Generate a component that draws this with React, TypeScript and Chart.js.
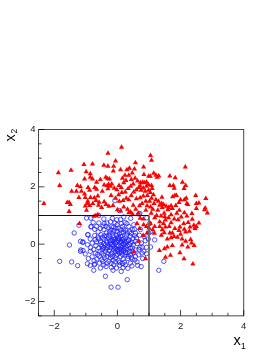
import React, { useEffect, useRef } from "react";
import { Chart, registerables } from "chart.js";

Chart.register(...registerables);

const xTicks = [-2, 0, 2, 4];
const yTicks = [-2, 0, 2, 4];
const minorTicks = [-2.5, -1.5, -1, -0.5, 0.5, 1, 1.5, 2.5, 3, 3.5];
const cutX = [-2.5, 1, 1];
const cutY = [1, 1, -2.5];

const redPoints: number[][] = [
  [-2.33,1.42],[-1.87,2.49],[-1.83,2.05],[-1.47,2.58],[-1.59,1.45],[-1.53,1.45],[-1.49,1.38],[-1.53,1.14],[-1.45,1.85],[-1.30,1.85],
  [-1.27,2.05],[-1.17,2.0],[-1.14,1.85],[-1.22,1.63],[-1.06,2.78],[-0.99,2.53],[-0.79,2.80],[-0.86,2.46],[-1.04,2.27],[-0.86,2.33],
  [-0.79,2.27],[-0.66,2.16],[-0.54,2.26],[-0.43,2.75],[-0.30,2.72],[-0.30,3.17],[-0.06,2.9],[-0.12,2.72],[0.13,3.38],[0.1,2.6],
  [-0.13,2.55],[-0.37,2.33],[-0.31,2.28],[-0.25,2.27],[-0.42,2.06],[-0.33,2.04],[-0.28,2.08],[-0.22,2.02],[-0.3,1.93],[-0.48,1.85],
  [-0.72,1.98],[-0.66,1.92],[-0.93,1.98],[-0.88,1.88],[-1.04,1.75],[-1.02,1.63],[-0.85,1.63],[-0.73,1.62],[-0.62,1.68],[-0.68,1.52],
  [-0.95,1.42],[-1.02,1.33],[-0.88,1.35],[-0.78,1.42],[-0.58,1.46],[-0.42,1.48],[-0.36,1.38],[-0.5,1.28],[-0.27,1.32],[-0.14,1.35],
  [-0.1,1.95],[-0.02,1.9],[0.05,2.05],[0.12,1.98],[0.2,2.14],[0.27,2.22],[0.36,2.4],[0.3,2.6],[0.38,2.65],[0.56,2.3],
  [0.64,2.2],[0.5,2.1],[0.42,2.02],[0.34,1.94],[0.25,1.82],[0.14,1.8],[0.04,1.72],[0.28,1.6],[0.36,1.55],[0.44,1.7],
  [0.52,1.82],[0.6,1.9],[0.68,1.98],[1.05,3.09],[1.08,2.93],[0.57,2.84],[0.83,2.69],[0.54,2.62],[0.47,2.48],[2.15,2.69],
  [1.66,2.38],[1.83,2.32],[0.84,2.43],[1.15,2.47],[0.99,2.37],[1.04,2.37],[1.26,2.33],[1.31,2.38],[1.22,2.4],[2.06,2.16],
  [2.16,2.05],[2.11,1.94],[1.66,2.05],[1.77,2.05],[1.8,1.95],[2.48,1.70],[1.41,1.64],[2.8,1.59],[2.58,1.44],[2.5,1.42],
  [2.78,1.26],[2.76,1.2],[2.85,1.09],[2.58,0.74],[2.36,1.07],[2.37,0.87],[2.5,1.24],[2.2,1.42],[2.23,1.38],[2.0,1.55],
  [2.12,1.55],[2.18,1.6],[1.82,1.7],[1.87,1.7],[1.75,1.65],[1.95,1.45],[1.85,1.35],[0.73,2.14],[0.8,2.16],[0.85,2.14],
  [0.92,2.17],[0.72,2.03],[0.82,1.96],[0.92,2.02],[0.98,2.08],[1.08,2.05],[0.75,1.88],[0.88,1.85],[0.99,1.88],[1.04,1.8],
  [1.1,1.94],[1.14,1.72],[0.95,1.7],[0.82,1.68],[0.72,1.62],[0.6,1.58],[1.08,1.6],[1.22,1.55],[1.3,1.5],[1.4,1.42],
  [1.46,1.38],[1.54,1.32],[1.62,1.28],[1.7,1.34],[1.74,1.24],[1.6,1.2],[1.42,1.28],[1.34,1.36],[1.16,1.42],[1.02,1.5],
  [0.9,1.5],[0.78,1.42],[0.7,1.34],[0.94,1.34],[1.05,1.3],[1.12,1.22],[1.28,1.18],[1.48,1.08],[1.7,1.03],[1.88,1.08],
  [1.96,1.18],[2.12,1.1],[2.2,0.98],[2.02,0.95],[1.92,0.85],[1.8,0.88],[1.62,0.92],[1.5,0.96],[1.38,0.98],[1.24,1.0],
  [1.18,0.92],[1.07,1.08],[1.34,0.78],[1.46,0.72],[1.52,0.84],[1.7,0.75],[1.64,0.62],[1.52,0.6],[1.42,0.5],[1.82,0.55],
  [1.95,0.48],[1.98,0.6],[2.1,0.72],[2.24,0.76],[2.3,0.6],[2.42,0.66],[2.46,0.6],[2.5,0.62],[2.12,0.52],[2.16,0.42],
  [1.66,0.39],[1.74,0.39],[1.79,0.27],[1.9,0.24],[2.0,0.35],[2.05,0.18],[2.32,0.16],[2.35,0.04],[2.16,0.1],[1.18,0.62],
  [1.04,0.72],[1.12,0.5],[1.0,0.56],[1.48,0.4],[1.34,0.62],[2.39,-0.69],[2.11,-0.51],[1.98,-0.30],[1.68,-0.39],[1.52,-0.46],
  [0.89,-0.51],[1.33,-0.22],[1.49,-0.16],[1.58,-0.1],[1.74,-0.05],[2.05,-0.03],[2.23,-0.1],[2.43,-0.05],[0.52,-0.27],[0.68,0.1],
  [0.94,0.39],[0.82,0.3],[1.17,0.38],[1.39,0.31],[0.7,0.55],[0.62,0.72],[0.83,0.68],[0.92,0.62],[0.72,0.9],[0.82,0.88],
  [1.58,0.18],[1.7,0.22],[2.46,0.55],[2.28,0.45],[-0.74,0.97],[-0.68,1.0],[-0.62,1.03],[-1.2,0.72],[-0.98,1.18],[0.0,1.2],
  [0.1,1.16],[0.2,1.3],[0.32,1.22],[0.42,1.12],[0.5,1.36],[0.58,1.22],[0.66,1.08],[0.18,1.52],[0.06,1.5],[-0.06,1.6],
  [-0.2,1.7],[0.36,1.1],[0.48,1.04],[0.9,1.18],[0.24,2.4],[-0.18,2.1],[0.44,2.26],[-0.6,1.36],[-0.94,1.5],[0.16,2.3],
];

const bluePoints: number[][] = [
  [-0.08,1.52],[-0.98,0.91],[-0.84,0.91],[-0.59,1.0],[-0.43,0.88],[-0.59,0.74],[-0.77,0.76],[-0.84,0.6],[-0.33,0.74],[0.10,0.86],
  [0.12,0.72],[-0.01,0.68],[-0.12,0.6],[-0.28,0.57],[-0.43,0.51],[-0.52,0.33],[-0.35,0.39],[-0.17,0.39],[-0.01,0.45],[0.2,0.53],
  [0.36,0.62],[0.52,0.68],[0.68,1.05],[0.47,0.51],[0.31,0.39],[-1.37,0.39],[-0.94,0.33],[-0.86,0.18],[-1.17,0.10],[-1.10,0.06],
  [-0.80,0.04],[-0.70,0.16],[-0.59,0.18],[-0.43,0.18],[-0.28,0.22],[-0.12,0.22],[0.10,0.27],[0.25,0.22],[0.41,0.27],[0.57,0.39],
  [0.73,0.51],[0.84,0.27],[0.99,0.39],[1.05,-0.10],[0.92,-0.11],[0.78,-0.10],[0.68,-0.37],[0.84,-0.25],[-1.09,-0.22],[-1.17,-0.25],
  [-0.86,-0.25],[-0.75,-0.19],[-0.70,-0.31],[-0.59,-0.13],[-0.49,-0.08],[-0.38,-0.02],[-0.22,0.04],[-0.06,0.04],[0.10,0.06],[0.25,0.04],
  [0.41,0.04],[0.57,0.10],[-1.45,-0.62],[-1.26,-0.75],[-0.86,-0.74],[-0.73,-0.72],[-0.75,-0.91],[-0.54,-0.83],[-0.43,-0.72],[-0.33,-0.66],
  [-0.49,-0.54],[-0.33,-0.43],[-0.17,-0.31],[-0.01,-0.19],[0.15,-0.13],[0.31,-0.19],[0.47,-0.13],[-0.22,-0.48],[-0.06,-0.48],[0.10,-0.43],
  [0.25,-0.37],[0.41,-0.37],[0.57,-0.43],[-0.12,-0.72],[0.07,-0.74],[0.25,-0.72],[0.41,-0.66],[0.62,-0.62],[0.75,-0.78],[-0.38,-1.12],
  [0.31,-1.24],[-0.2,-1.5],[0.02,-1.5],[1.31,-0.91],[-0.14,-0.91],[0.12,-0.95],[-0.49,-0.31],[-0.65,-0.52],[-1.83,-0.60],[-1.52,-0.03],
  [-1.22,0.66],[-0.93,0.33],[-0.83,0.62],[1.47,-0.60],[0.64,-0.74],[0.78,-0.31],[1.18,0.15],[0.71,1.07],[0.93,0.92],[1.02,0.72],
  [1.05,0.44],[0.06,1.17],[-1.09,0.08],[-1.02,-0.34],[-1.16,-0.2],[-0.72,-0.69],[0.71,-0.11],[0.88,0.12],[-0.46,0.63],[-0.61,0.43],
  [-0.72,0.3],[-0.54,0.08],[-0.36,0.11],[-0.47,-0.18],[-0.31,-0.12],[-0.2,0.14],[-0.11,0.09],[-0.03,0.31],[0.06,0.18],[0.13,0.4],
  [0.22,0.11],[0.18,0.02],[0.04,-0.05],[-0.14,-0.07],[-0.26,-0.22],[-0.07,-0.27],[0.07,-0.31],[0.19,-0.22],[0.31,-0.05],[0.36,0.15],
  [0.49,0.2],[0.28,0.31],[0.16,0.62],[0.03,0.56],[-0.21,0.49],[-0.08,0.16],[0.02,0.12],[0.14,-0.04],[0.27,-0.1],[0.38,-0.26],
  [0.52,-0.3],[0.18,-0.52],[0.03,-0.58],[-0.13,-0.56],[-0.27,-0.6],[-0.41,-0.47],[-0.38,-0.25],[-0.21,-0.37],[-0.04,-0.39],[0.13,-0.27],
  [0.08,-0.17],[-0.1,-0.13],[-0.2,-0.02],[-0.33,0.05],[-0.44,0.02],[-0.55,-0.24],[-0.63,-0.36],[-0.8,-0.44],[-0.57,-0.66],[-0.46,-0.61],
  [-0.19,-0.81],[-0.03,-0.83],[0.18,-0.82],[0.33,-0.84],[0.47,-0.52],[0.33,-0.5],[0.22,-0.63],[0.07,-0.64],[-0.06,-0.62],[0.46,0.07],
  [0.6,0.22],[0.7,0.31],[0.63,0.02],[0.5,-0.03],[0.41,-0.14],[0.58,-0.2],[0.34,0.12],[0.19,0.19],[0.03,0.25],[-0.13,0.3],
  [-0.27,0.31],[-0.41,0.29],[-0.24,0.12],[-0.02,-0.08],[0.09,-0.09],[0.22,-0.02],[0.12,0.11],[-0.03,0.09],[-0.15,-0.01],[-0.3,-0.06],
  [-0.43,-0.12],[0.25,-0.29],[-0.12,-0.2],[0.02,-0.25],[-0.25,0.42],[0.1,0.5],[0.26,0.48],[0.39,0.44],[-0.11,0.47],[0.06,0.36],
  [-0.68,-0.05],[-0.85,-0.12],[-0.95,-0.02],[-0.42,0.72],[-0.22,0.78],[-0.02,0.85],[0.24,0.76],[-0.72,0.52],[0.8,-0.5],[0.92,-0.33],
  [-0.62,0.24],[-0.66,0.08],[-0.52,-0.02],[-0.58,-0.42],[-0.44,-0.38],[-0.3,-0.32],[-0.16,-0.43],[0.0,-0.35],[0.16,-0.36],[0.3,-0.3],
  [0.44,-0.46],[0.55,-0.55],[0.47,-0.24],[0.68,-0.18],[0.76,0.04],[0.55,0.3],[0.43,0.37],[0.2,0.42],[-0.05,0.55],[-0.19,0.61],
  [-0.36,0.62],[-0.54,0.55],[-0.66,0.62],[-0.48,0.24],[-0.34,0.28],[-0.16,0.15],[0.02,0.2],[0.16,0.15],[0.3,0.09],[0.38,-0.02],
  [0.12,-0.2],[-0.05,-0.15],[-0.22,-0.12],[-0.36,-0.17],[0.24,-0.15],[0.34,-0.42],[0.16,-0.68],[-0.2,-0.67],[-0.36,-0.78],[0.46,-0.76],
  [0.54,0.52],[0.3,0.72],[-0.08,0.74],[-0.16,0.9],[0.2,0.95],[0.42,0.9],[-0.74,-0.58],[-0.92,-0.5],[-0.95,-0.68],[0.98,0.18],
];

const toPoints = (p: number[][]) => p.map(([x, y]) => ({ x, y }));
const minus = (v: number) => String(v).replace("-", "\u2212");

const decor = {
  id: "decor",
  afterDatasetsDraw(chart: any) {
    const { ctx, chartArea: a, scales } = chart;
    const sx = scales.x, sy = scales.y;
    ctx.save();
    ctx.strokeStyle = "#000";
    ctx.lineWidth = 1;
    ctx.globalAlpha = 0.72;
    ctx.strokeRect(a.left, a.top, a.right - a.left, a.bottom - a.top);
    ctx.beginPath();
    xTicks.forEach((v) => { const p = sx.getPixelForValue(v); ctx.moveTo(p, a.bottom); ctx.lineTo(p, a.bottom - 6); });
    yTicks.forEach((v) => { const p = sy.getPixelForValue(v); ctx.moveTo(a.left, p); ctx.lineTo(a.left + 6, p); });
    minorTicks.forEach((v) => {
      const px = sx.getPixelForValue(v); ctx.moveTo(px, a.bottom); ctx.lineTo(px, a.bottom - 3);
      const py = sy.getPixelForValue(v); ctx.moveTo(a.left, py); ctx.lineTo(a.left + 3, py);
    });
    ctx.stroke();
    ctx.globalAlpha = 1;
    ctx.fillStyle = "#000";
    ctx.font = "14.5px 'Liberation Sans'";
    ctx.textAlign = "left";
    ctx.textBaseline = "alphabetic";
    ctx.fillText("x", 233.5, 344.5);
    ctx.font = "8.5px 'Liberation Sans'";
    ctx.fillText("1", 241, 348.5);
    ctx.translate(14.5, 141.5);
    ctx.rotate(-Math.PI / 2);
    ctx.font = "14.5px 'Liberation Sans'";
    ctx.fillText("x", 0, 0);
    ctx.font = "8.5px 'Liberation Sans'";
    ctx.fillText("2", 8, 2.5);
    ctx.restore();
  },
};

export default function App() {
  const ref = useRef<HTMLCanvasElement>(null);
  useEffect(() => {
    document.body.style.margin = "0";
    const chart = new Chart(ref.current!, {
      type: "scatter",
      data: {
        datasets: [
          {
            data: cutX.map((x, i) => ({ x, y: cutY[i] })),
            showLine: true, pointRadius: 0, borderColor: "#111", borderWidth: 1, order: 0,
            segment: { borderColor: (c: any) => (c.p0DataIndex === 1 ? "#666" : "#111") },
          },
          {
            data: toPoints(redPoints), pointStyle: "triangle", pointRadius: 3,
            backgroundColor: "#ff0000", borderColor: "#ff0000", borderWidth: 0, order: 1,
          },
          {
            data: toPoints(bluePoints), pointStyle: "circle", pointRadius: 2.2,
            backgroundColor: "transparent", borderColor: "#1a1aff", borderWidth: 0.75, order: 2,
          },
        ],
      },
      options: {
        responsive: false,
        animation: false,
        layout: { padding: { top: 129.5, right: 33.3, left: 0, bottom: 0 } },
        plugins: { legend: { display: false }, tooltip: { enabled: false } },
        scales: {
          x: {
            type: "linear", min: -2.5, max: 4,
            grid: { display: false, drawTicks: false },
            border: { display: false },
            afterBuildTicks: (s: any) => { s.ticks = xTicks.map((value) => ({ value })); },
            afterFit: (s: any) => { s.height = 42.17; },
            ticks: { autoSkip: false, maxRotation: 0, padding: 5, color: "#222", font: { family: "Liberation Sans", size: 9.5 }, callback: (v: any) => minus(v) },
          },
          y: {
            type: "linear", min: -2.5, max: 4,
            grid: { display: false, drawTicks: false },
            border: { display: false },
            afterBuildTicks: (s: any) => { s.ticks = yTicks.map((value) => ({ value })); },
            afterFit: (s: any) => { s.width = 38.5; },
            ticks: { autoSkip: false, padding: 3, color: "#222", font: { family: "Liberation Sans", size: 9.5 }, callback: (v: any) => minus(v) },
          },
        },
      },
      plugins: [decor],
    } as any);
    return () => chart.destroy();
  }, []);
  return <canvas ref={ref} width={277} height={358} style={{ display: "block" }} />;
}
